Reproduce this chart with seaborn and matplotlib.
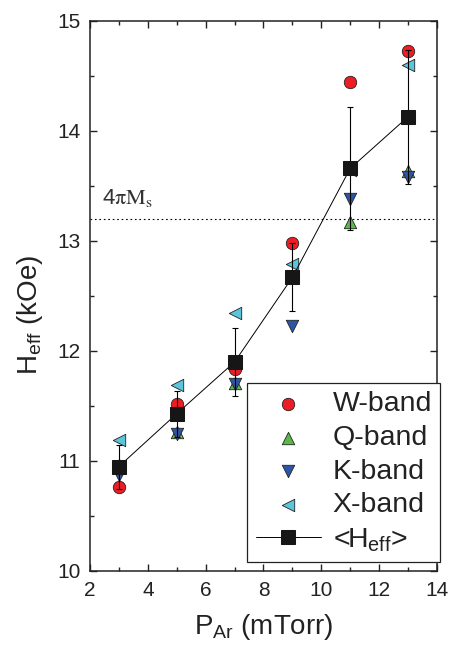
import matplotlib
matplotlib.use("Agg")
import matplotlib.pyplot as plt
import seaborn as sns
import numpy as np
import pandas as pd
from matplotlib.ticker import MultipleLocator

# ---- data ----
pressure = [3, 5, 7, 9, 11, 13]
w_band = [10.76, 11.52, 11.84, 12.98, 14.45, 14.73]
q_band = [10.96, 11.26, 11.71, 12.68, 13.17, 13.64]
k_band = [10.87, 11.25, 11.70, 12.23, 13.38, 13.58]
x_band = [11.19, 11.69, 12.35, 12.79, 13.65, 14.60]
h_mean = [10.95, 11.43, 11.90, 12.67, 13.66, 14.13]
h_err = [0.20, 0.21, 0.31, 0.31, 0.56, 0.61]
four_pi_ms = 13.2

sns.set_style("ticks")
plt.rcParams["font.family"] = ["Liberation Sans", "DejaVu Sans"]
plt.rcParams["mathtext.default"] = "regular"

fig = plt.figure(figsize=(4.55, 6.5), dpi=100)
ax = fig.add_axes([90 / 455, 1 - 571 / 650, (437 - 90) / 455, 550 / 650])

bands = [
    ("W-band", w_band, "o", "#ee1c24"),
    ("Q-band", q_band, "^", "#5cb848"),
    ("K-band", k_band, "v", "#2e55a5"),
    ("X-band", x_band, "<", "#5bc5dc"),
]
for name, vals, mk, col in bands:
    df = pd.DataFrame({"P": pressure, "H": vals})
    sns.scatterplot(data=df, x="P", y="H", marker=mk, color=col, s=80,
                    edgecolor="#222222", linewidth=0.6, ax=ax, label=name,
                    zorder=3)

ax.axhline(four_pi_ms, color="black", lw=0.8, ls=(0, (1.5, 2.5)), zorder=1)

ax.errorbar(pressure, h_mean, yerr=h_err, fmt="none", ecolor="black",
            elinewidth=0.8, capsize=2.5, capthick=0.8, zorder=4)
dfm = pd.DataFrame({"P": pressure, "H": h_mean})
sns.lineplot(data=dfm, x="P", y="H", color="black", lw=0.7, marker="s",
             markersize=10, markerfacecolor="#161616", markeredgecolor="#161616",
             ax=ax, label=r"<H$_{eff}$>", zorder=5)

ax.text(2.42, 13.33, r"$4\mathrm{\pi M}_\mathrm{s}$", math_fontfamily="stix",
        fontsize=16, color="#333333", ha="left", va="baseline")

ax.set_xlim(2, 14)
ax.set_ylim(10, 15)
ax.xaxis.set_major_locator(MultipleLocator(2))
ax.xaxis.set_minor_locator(MultipleLocator(1))
ax.yaxis.set_major_locator(MultipleLocator(1))
ax.yaxis.set_minor_locator(MultipleLocator(0.5))
ax.tick_params(which="both", direction="in", top=True, right=True,
               width=1.0, color="#222222")
ax.tick_params(which="major", length=5, labelsize=15, pad=7, labelcolor="#222222")
ax.tick_params(which="minor", length=3)
for sp in ax.spines.values():
    sp.set_linewidth(1.1)
    sp.set_color("#222222")

ax.set_xlabel(r"P$_{Ar}$ (mTorr)", fontsize=20, color="#222222", labelpad=9)
ax.set_ylabel(r"H$_{eff}$ (kOe)", fontsize=20, color="#222222")
ax.yaxis.set_label_coords(-0.13, 0.465)

leg = ax.legend(loc="lower right", bbox_to_anchor=(1.01, 0.016),
                borderaxespad=0, fontsize=20.5, frameon=True, fancybox=False,
                framealpha=1, edgecolor="#222222", handlelength=2.3,
                handletextpad=0.4, labelspacing=0.27, borderpad=0.3,
                markerscale=1.0)
leg.get_frame().set_linewidth(0.9)
for t in leg.get_texts():
    t.set_color("#222222")

fig.savefig("out.png", dpi=100)
